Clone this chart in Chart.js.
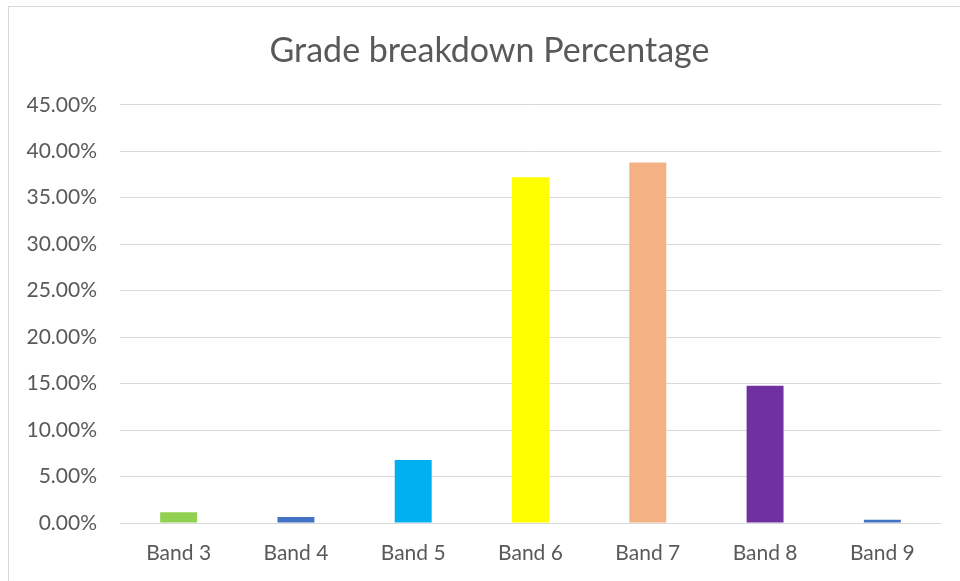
<!DOCTYPE html>
<html>
<head>
<meta charset="utf-8">
<script src="https://cdn.jsdelivr.net/npm/chart.js@4"></script>
<style>
  html, body { margin: 0; padding: 0; background: #ffffff; overflow: hidden; }
  #frame { position: absolute; left: 8px; top: 6px; width: 1000px; height: 700px; border: 1px solid #d9d9d9; box-sizing: border-box; }
  #wrap { position: absolute; left: 0; top: 0; width: 960px; height: 581px; }
</style>
</head>
<body>
<div id="frame"></div>
<div id="wrap"><canvas id="c" width="960" height="581"></canvas></div>
<script>
const categories = ["Band 3", "Band 4", "Band 5", "Band 6", "Band 7", "Band 8", "Band 9"];
const percentages = [1.15, 0.65, 6.77, 37.2, 38.8, 14.76, 0.36];
const barColors = ["#92d050", "#4472c4", "#00b0f0", "#ffff00", "#f4b183", "#7030a0", "#4472c4"];
const chartTitle = "Grade breakdown Percentage";
const yMin = 0, yMax = 45, yStep = 5;

const FONT = "Lato, Carlito, 'Liberation Sans', sans-serif";
const TEXT = "#595959";
const GRID = "#d9d9d9";

// centre the title over the chart frame (which starts at x=8 and runs past the right edge)
const titleCentering = {
  id: "titleCentering",
  afterLayout(chart) {
    if (chart.titleBlock) { chart.titleBlock.left = 38; chart.titleBlock.right = 941; }
  }
};

new Chart(document.getElementById("c"), {
  type: "bar",
  data: {
    labels: categories,
    datasets: [{
      data: percentages,
      backgroundColor: barColors,
      borderWidth: 0,
      categoryPercentage: 1.0,
      barPercentage: 0.315
    }]
  },
  options: {
    responsive: false,
    animation: false,
    devicePixelRatio: 1,
    layout: { padding: { top: 8, right: 19, bottom: 0, left: 0 } },
    plugins: {
      legend: { display: false },
      tooltip: { enabled: false },
      title: {
        display: true,
        text: chartTitle,
        color: TEXT,
        font: { family: FONT, size: 34, weight: "normal" },
        padding: { top: 23, bottom: 33 }
      }
    },
    scales: {
      x: {
        grid: { display: false, drawTicks: false },
        border: { display: false },
        ticks: { color: TEXT, font: { family: FONT, size: 21 }, padding: 18, maxRotation: 0 },
        afterFit: (s) => { s.height = 58; }
      },
      y: {
        min: yMin, max: yMax,
        grid: { color: GRID, lineWidth: 1, drawTicks: false },
        border: { display: false },
        ticks: {
          stepSize: yStep,
          color: TEXT,
          font: { family: FONT, size: 21 },
          padding: 23,
          callback: (v) => Number(v).toFixed(2) + "%"
        },
        afterFit: (s) => { s.width = 120; }
      }
    }
  },
  plugins: [titleCentering]
});
</script>
</body>
</html>
